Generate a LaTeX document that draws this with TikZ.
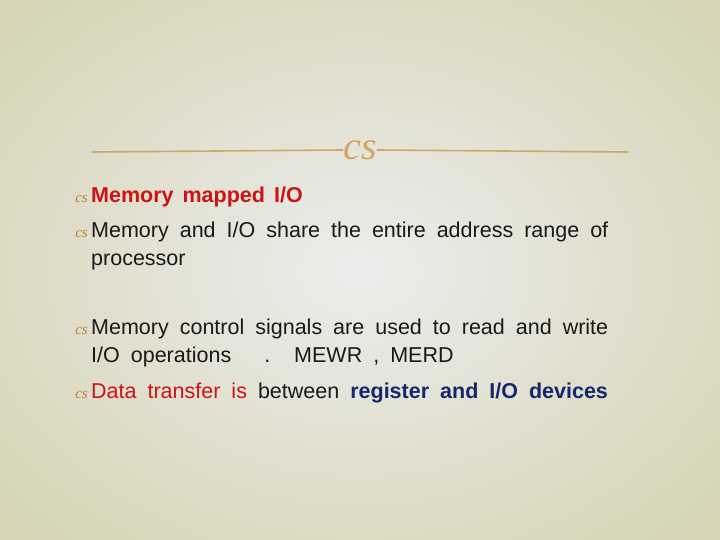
\documentclass[tikz,border=0pt]{standalone}
\usepackage{fontspec}
\setmainfont{Liberation Sans}
\newfontfamily\orn{Liberation Serif}
\newcommand\bodyfnt{\fontsize{21.5}{21.5}\selectfont\spaceskip=11pt\relax}
\newcommand\headfnt{\bfseries\fontsize{21.5}{21.5}\selectfont\spaceskip=9pt\relax}
\definecolor{bgin}{RGB}{236,236,236}
\definecolor{bgout}{RGB}{214,212,180}
\definecolor{gold}{RGB}{212,166,100}
\definecolor{bul}{RGB}{190,130,60}
\definecolor{rd}{RGB}{205,20,20}
\definecolor{bl}{RGB}{20,40,110}
\definecolor{tx}{RGB}{25,25,25}
\tikzset{
  line/.style={anchor=base west,inner sep=0pt,font=\bodyfnt,text=tx},
  bullet/.style={anchor=base east,inner sep=0pt,font=\orn\itshape\fontsize{15}{15}\selectfont,text=bul}
}
\begin{document}
\begin{tikzpicture}[x=1pt,y=1pt]
\useasboundingbox (0,0) rectangle (720,540);
\shade[inner color=bgin,outer color=bgout] (-130,-100) rectangle (850,640);
\coordinate (l1) at (92,388);
\coordinate (l2) at (628,388);
\node[inner sep=0pt,font=\orn\itshape\fontsize{40}{40}\selectfont,text=gold] (orn) at (360,390) {cs};
\draw[gold,line width=1.6pt] (l1) -- (orn.west);
\draw[gold,line width=1.6pt] (orn.east) -- (l2);
\node[line,text=rd,font=\headfnt] (t1) at (91,337) {Memory mapped I/O};
\node[line] (t2) at (91,302) {Memory and I/O share the entire address range of};
\node[line] (t3) at (91,274) {processor};
\node[line] (t4) at (91,205) {Memory control signals are used to read and write};
\node[line] (t5) at (91,177) {I/O operations \ \ . \ MEWR , MERD};
\node[line] (t6) at (91,141) {\textcolor{rd}{Data transfer is} between \textcolor{bl}{\bfseries register and I/O devices}};
\node[bullet] (b1) at (88,337) {cs};
\node[bullet] (b2) at (88,302) {cs};
\node[bullet] (b4) at (88,205) {cs};
\node[bullet] (b6) at (88,141) {cs};
\end{tikzpicture}
\end{document}
